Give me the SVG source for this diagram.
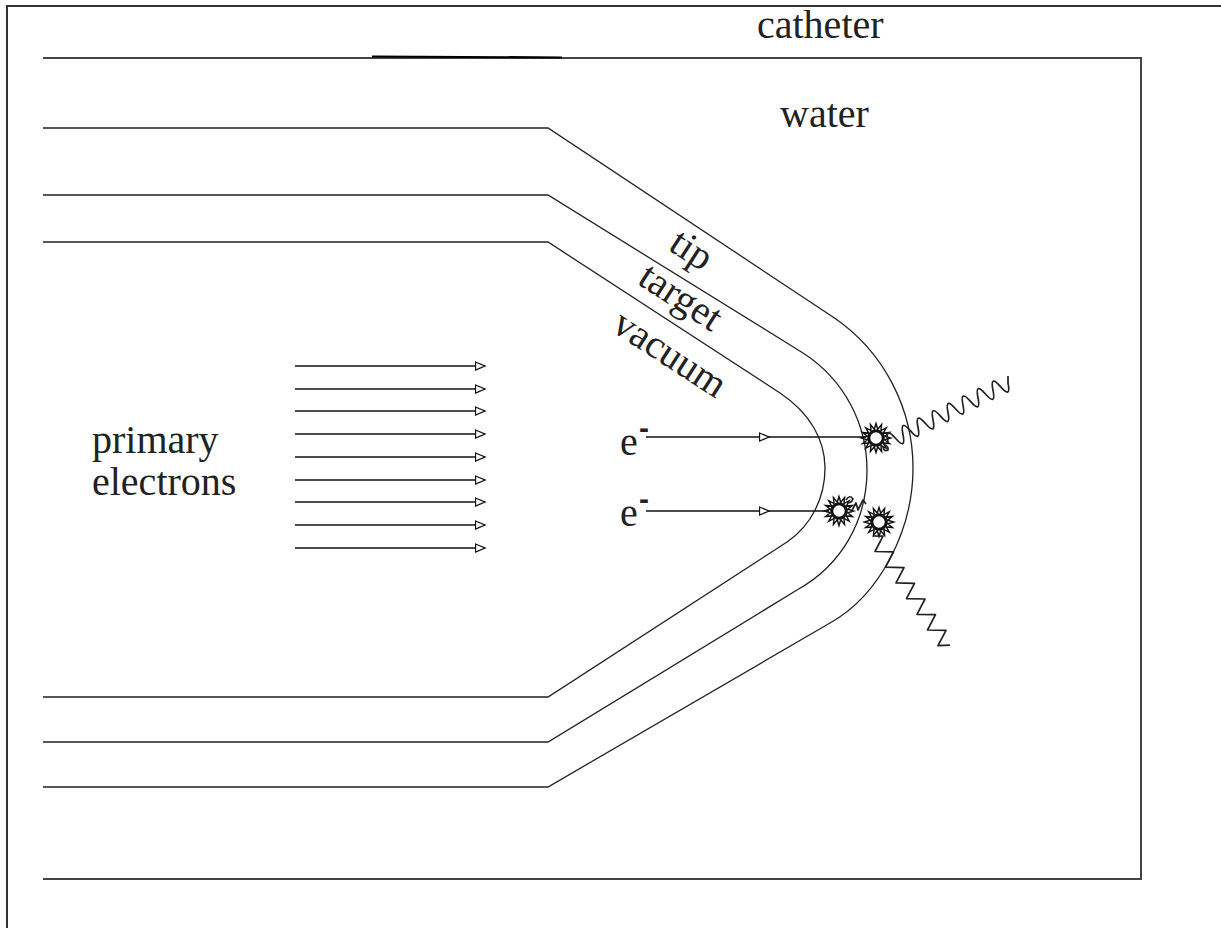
<svg xmlns="http://www.w3.org/2000/svg" xmlns:xlink="http://www.w3.org/1999/xlink" width="1221" height="928" viewBox="0 0 1221 928">
  <style>
    .frame { fill: none; stroke: #333; stroke-width: 2; }
    .box { fill: none; stroke: #444; stroke-width: 2; }
    .layer { fill: none; stroke: #222; stroke-width: 1.3; }
    .beam { fill: none; stroke: #111; stroke-width: 1.5; }
    .photon { fill: none; stroke: #222; stroke-width: 1.7; stroke-linejoin: round; }
    .lbl { font-family: "Liberation Serif", "DejaVu Serif", serif; font-size: 40px; fill: #222; }
    .sup { font-family: "Liberation Sans", "DejaVu Sans", sans-serif; font-size: 30px; font-weight: bold; fill: #222; }
    .burst-ring { fill: #fff; stroke: #111; stroke-width: 1.3; }
    .burst-core { fill: none; stroke: #111; stroke-width: 2.8; }
  </style>
  <defs>
    <marker id="open-tri" markerUnits="userSpaceOnUse" markerWidth="12" markerHeight="11" refX="10.5" refY="5" orient="auto" viewBox="0 0 12 10">
      <path d="M1,1 L10.5,5 L1,9 Z" fill="#fff" stroke="#111" stroke-width="1.3"/>
    </marker>
    <g id="burst">
      <polygon class="burst-ring" points="13,0 7.85,1.56 12.01,4.97 6.65,4.44 9.19,9.19 4.44,6.65 4.97,12.01 1.56,7.85 0,13 -1.56,7.85 -4.97,12.01 -4.44,6.65 -9.19,9.19 -6.65,4.44 -12.01,4.97 -7.85,1.56 -13,0 -7.85,-1.56 -12.01,-4.97 -6.65,-4.44 -9.19,-9.19 -4.44,-6.65 -4.97,-12.01 -1.56,-7.85 0,-13 1.56,-7.85 4.97,-12.01 4.44,-6.65 9.19,-9.19 6.65,-4.44 12.01,-4.97 7.85,-1.56"/>
      <circle class="burst-core" r="6.5"/>
    </g>
  </defs>

  <!-- outer frame -->
  <g id="frame">
    <path class="frame" d="M7,928 V6 H1221"/>
  </g>

  <!-- water region (open on the left) -->
  <g id="water">
    <path class="box" d="M43,58 H1141 V879 H43"/>
    <line x1="372" y1="56.5" x2="562" y2="57.5" stroke="#000" stroke-width="2.2"/>
    <text class="lbl" font-family="Liberation Serif, serif" x="757" y="38">catheter</text>
    <text class="lbl" font-family="Liberation Serif, serif" x="780" y="127">water</text>
  </g>

  <!-- nested layers of the catheter tip -->
  <g id="tip">
    <path class="layer" d="M43,128 H548 L833,317 C885,352 913,410 913,468 C913,530 880,595 830,623 L548,787 H43"/>
    <text class="lbl" font-family="Liberation Serif, serif" transform="translate(667,249) rotate(33)">tip</text>
  </g>
  <g id="target">
    <path class="layer" d="M43,195 H548 L803,353 C845,380 867,425 867,470 C867,520 842,565 797,590 L548,742 H43"/>
    <text class="lbl" font-family="Liberation Serif, serif" transform="translate(636,283) rotate(33)">target</text>
  </g>
  <g id="vacuum">
    <path class="layer" d="M43,242 H548 L780,393 C810,413 825,440 825,468 C825,497 812,525 787,542 L548,697 H43"/>
    <text class="lbl" font-family="Liberation Serif, serif" transform="translate(610,330) rotate(33)">vacuum</text>
  </g>

  <!-- primary electron beam -->
  <g id="primary-electrons">
    <text class="lbl" font-family="Liberation Serif, serif" x="92" y="453">primary</text>
    <text class="lbl" font-family="Liberation Serif, serif" x="92" y="495">electrons</text>
    <g class="beam" marker-end="url(#open-tri)">
      <line x1="295" y1="366" x2="485" y2="366"/>
      <line x1="295" y1="389" x2="485" y2="389"/>
      <line x1="295" y1="411" x2="485" y2="411"/>
      <line x1="295" y1="434" x2="485" y2="434"/>
      <line x1="295" y1="457" x2="485" y2="457"/>
      <line x1="295" y1="480" x2="485" y2="480"/>
      <line x1="295" y1="502" x2="485" y2="502"/>
      <line x1="295" y1="525" x2="485" y2="525"/>
      <line x1="295" y1="548" x2="485" y2="548"/>
    </g>
  </g>

  <!-- single electrons hitting the target -->
  <g id="electron-1">
    <text class="lbl" font-family="Liberation Serif, serif" x="620" y="455">e</text>
    <text class="sup" x="639" y="438">-</text>
  </g>
  <g id="electron-2">
    <text class="lbl" font-family="Liberation Serif, serif" x="620" y="526">e</text>
    <text class="sup" x="639" y="509">-</text>
  </g>

  <!-- interaction points -->
  <g id="hit-1">
    <use xlink:href="#burst" href="#burst" transform="translate(876,438) scale(1.12)"/>
    <path class="photon" d="M883,444 q6,2 5,6 q-4,2 -5,-3"/>
  </g>
  <g id="hit-2">
    <use xlink:href="#burst" href="#burst" transform="translate(839,511) scale(1.12)"/>
    <path class="photon" d="M846,500 q4,-6 7,-1 q-2,5 -6,3"/>
  </g>
  <g id="hit-3">
    <use xlink:href="#burst" href="#burst" transform="translate(879,522) scale(1.12)"/>
  </g>

  <g id="connectors">
    <!-- electron tracks -->
    <line class="beam" x1="646" y1="437" x2="769" y2="437" marker-end="url(#open-tri)"/>
    <line class="beam" x1="769" y1="437" x2="866" y2="437"/>
    <line class="beam" x1="646" y1="511" x2="769" y2="511" marker-end="url(#open-tri)"/>
    <line class="beam" x1="769" y1="511" x2="829" y2="511"/>
    <!-- short scattered path between the two hits -->
    <path class="photon" d="M851,512 l5,-9 l2,7 l5,-10 l3,4"/>
    <!-- emitted x-ray photons -->
    <path class="photon" d="M888,442 q-3.3,-16.2 7.5,-3.69 q10.8,12.5 7.5,-3.69 q-3.3,-16.2 7.5,-3.69 q10.8,12.5 7.5,-3.69 q-3.3,-16.2 7.5,-3.69 q10.8,12.5 7.5,-3.69 q-3.3,-16.2 7.5,-3.69 q10.8,12.5 7.5,-3.69 q-3.3,-16.2 7.5,-3.69 q10.8,12.5 7.5,-3.69 q-3.3,-16.2 7.5,-3.69 q10.8,12.5 7.5,-3.69 q-3.3,-16.2 7.5,-3.69 q10.8,12.5 7.5,-3.69 q-3.3,-16.2 7.5,-3.69 q10.8,12.5 7.5,-3.69 l0,-7"/>
    <path class="photon" d="M873,536 l10,0.2 l-8,15.3 l18.5,0.4 l-8,15.3 l18.5,0.4 l-8,15.3 l18.5,0.4 l-8,15.3 l18.5,0.4 l-8,15.3 l18.5,0.4 l-8,15.3 l18.5,0.4 l-8,15.3 l12,-0.5"/>
  </g>
</svg>
